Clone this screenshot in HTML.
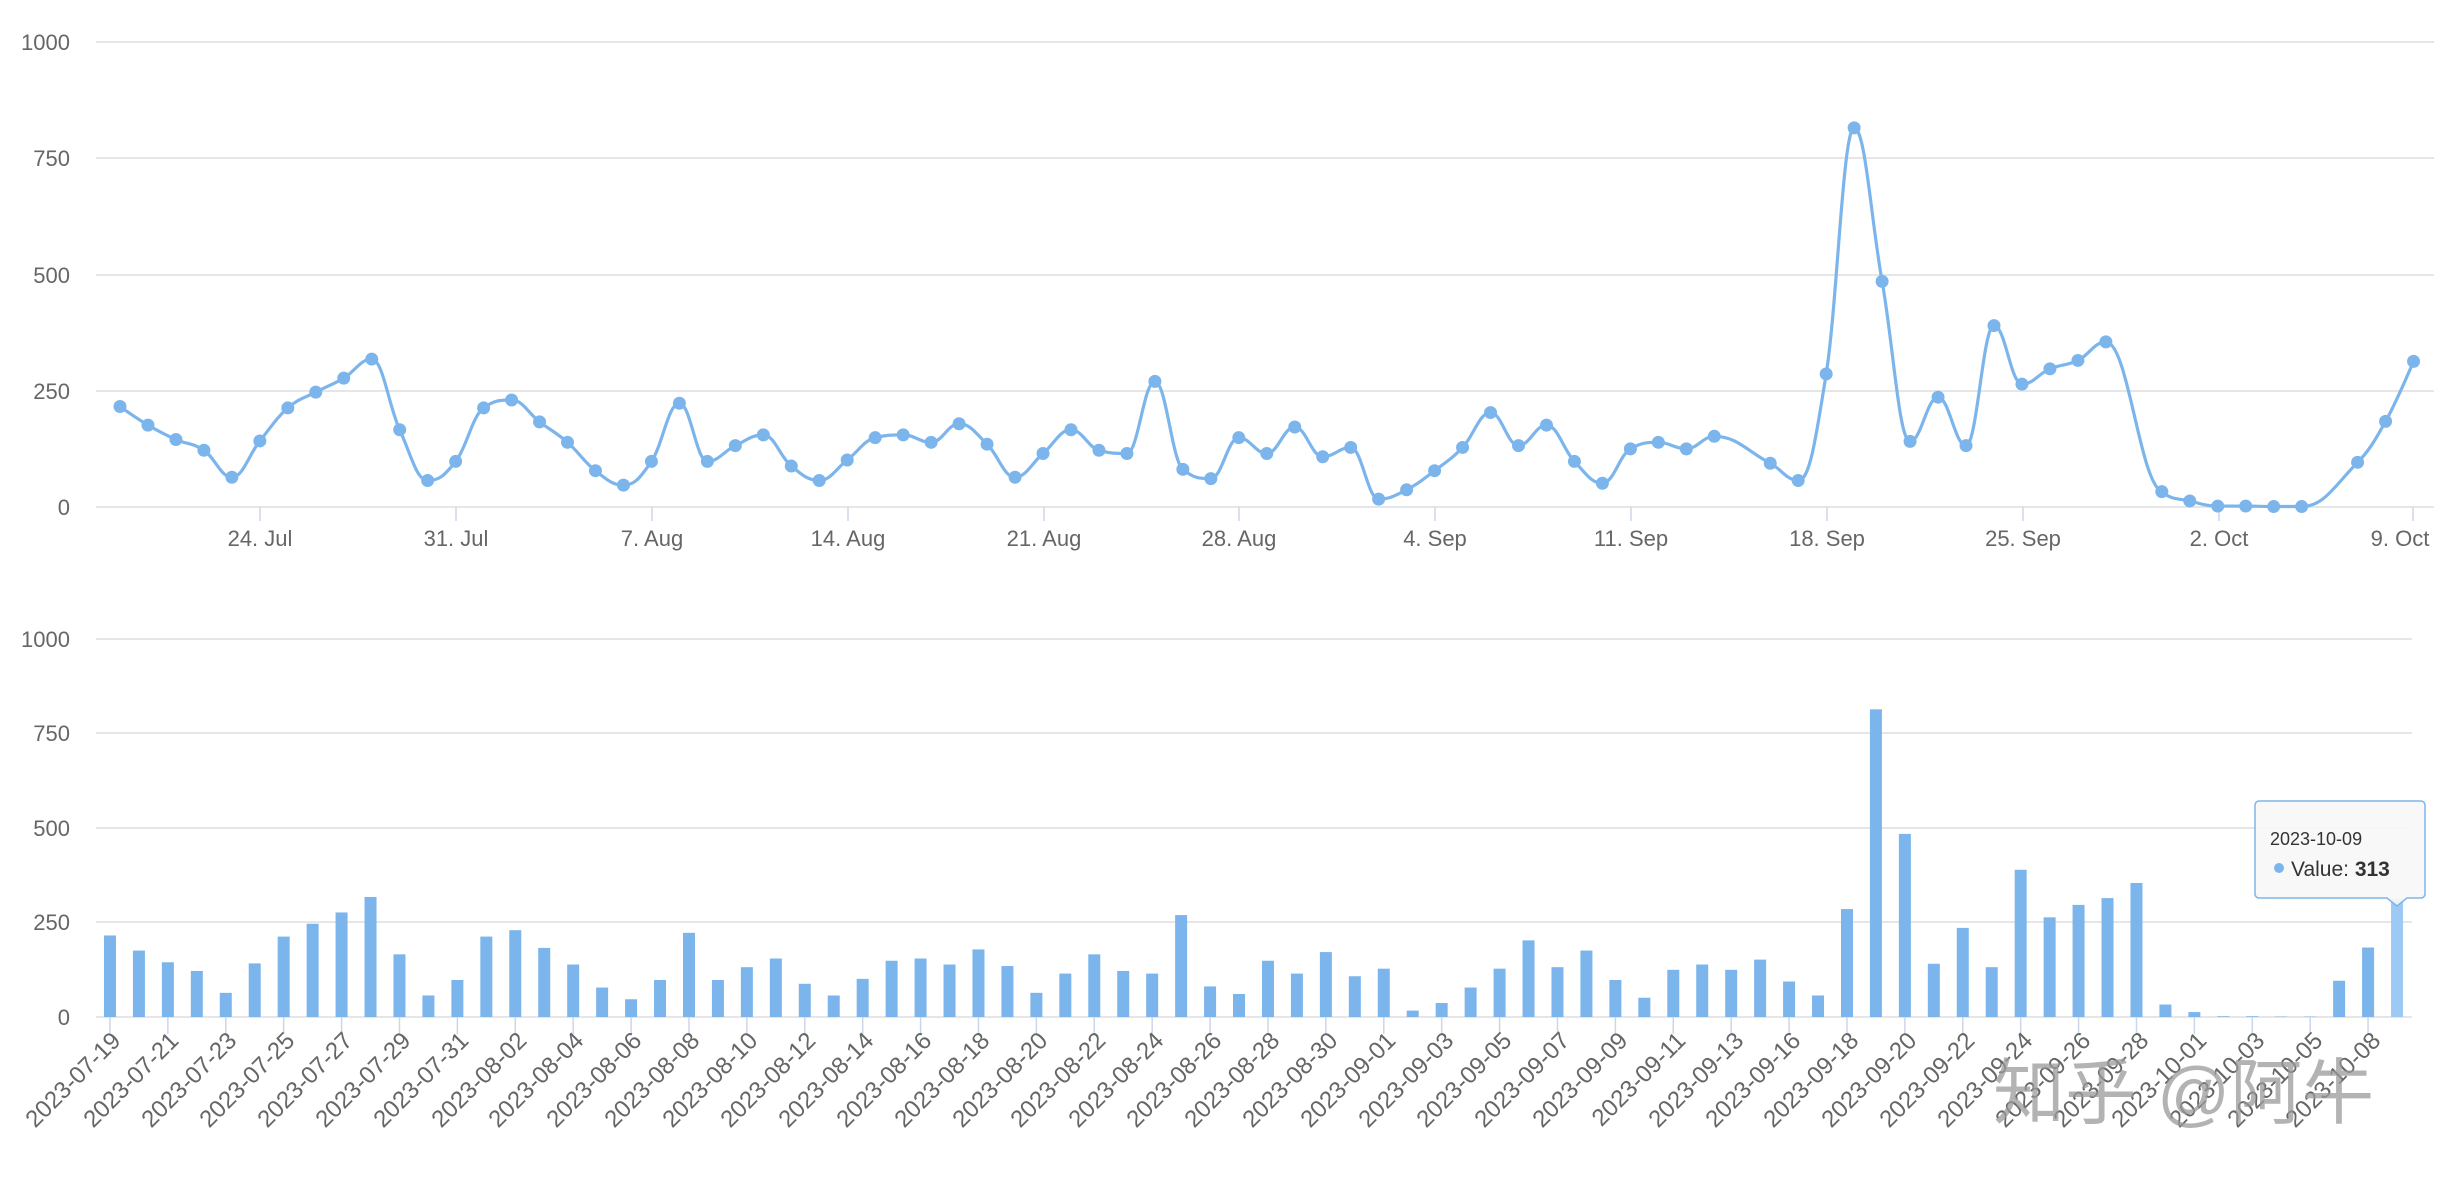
<!DOCTYPE html>
<html><head><meta charset="utf-8"><style>
html,body{margin:0;padding:0;background:#fff;}
svg{display:block;font-family:"Liberation Sans","Noto Sans CJK SC",sans-serif;}
.yl{font-size:22px;fill:#666;text-anchor:end;}
.xl{font-size:22px;fill:#666;text-anchor:middle;}
.bl{font-size:24px;fill:#666;text-anchor:end;}
</style></head><body>
<svg id="s" width="2439" height="1186" viewBox="0 0 2439 1186" xmlns="http://www.w3.org/2000/svg">
<g stroke="#e6e6e6" stroke-width="2">
<line x1="96" x2="2434" y1="42" y2="42"/><line x1="96" x2="2434" y1="158" y2="158"/><line x1="96" x2="2434" y1="275" y2="275"/><line x1="96" x2="2434" y1="391" y2="391"/><line x1="96" x2="2434" y1="507" y2="507"/>
<line x1="96" x2="2412" y1="639" y2="639"/><line x1="96" x2="2412" y1="733" y2="733"/><line x1="96" x2="2412" y1="828" y2="828"/><line x1="96" x2="2412" y1="922" y2="922"/><line x1="96" x2="2412" y1="1017" y2="1017"/>
</g>
<g class="yl">
<text x="70" y="50">1000</text><text x="70" y="166">750</text><text x="70" y="283">500</text><text x="70" y="399">250</text><text x="70" y="515">0</text>
<text x="70" y="647">1000</text><text x="70" y="741">750</text><text x="70" y="836">500</text><text x="70" y="930">250</text><text x="70" y="1025">0</text>
</g>
<g id="tt" stroke="#ccd6eb" stroke-width="1.5"></g>
<g class="xl">
<text x="260" y="546">24. Jul</text><text x="456" y="546">31. Jul</text><text x="652" y="546">7. Aug</text><text x="848" y="546">14. Aug</text><text x="1044" y="546">21. Aug</text><text x="1239" y="546">28. Aug</text><text x="1435" y="546">4. Sep</text><text x="1631" y="546">11. Sep</text><text x="1827" y="546">18. Sep</text><text x="2023" y="546">25. Sep</text><text x="2219" y="546">2. Oct</text><text x="2400" y="546">9. Oct</text>
</g>
<g id="bars"></g>
<path id="line" fill="none" stroke="#7cb5ec" stroke-width="3.2"/>
<g id="marks" fill="#7cb5ec"></g>
<g id="bt" stroke="#ccd6eb" stroke-width="1.5"></g>
<g class="bl" id="blabels">
<text transform="translate(122,1042) rotate(-45)">2023-07-19</text>
<text transform="translate(180,1042) rotate(-45)">2023-07-21</text>
<text transform="translate(238,1042) rotate(-45)">2023-07-23</text>
<text transform="translate(296,1042) rotate(-45)">2023-07-25</text>
<text transform="translate(354,1042) rotate(-45)">2023-07-27</text>
<text transform="translate(412,1042) rotate(-45)">2023-07-29</text>
<text transform="translate(470,1042) rotate(-45)">2023-07-31</text>
<text transform="translate(528,1042) rotate(-45)">2023-08-02</text>
<text transform="translate(585,1042) rotate(-45)">2023-08-04</text>
<text transform="translate(643,1042) rotate(-45)">2023-08-06</text>
<text transform="translate(701,1042) rotate(-45)">2023-08-08</text>
<text transform="translate(759,1042) rotate(-45)">2023-08-10</text>
<text transform="translate(817,1042) rotate(-45)">2023-08-12</text>
<text transform="translate(875,1042) rotate(-45)">2023-08-14</text>
<text transform="translate(933,1042) rotate(-45)">2023-08-16</text>
<text transform="translate(991,1042) rotate(-45)">2023-08-18</text>
<text transform="translate(1049,1042) rotate(-45)">2023-08-20</text>
<text transform="translate(1107,1042) rotate(-45)">2023-08-22</text>
<text transform="translate(1165,1042) rotate(-45)">2023-08-24</text>
<text transform="translate(1223,1042) rotate(-45)">2023-08-26</text>
<text transform="translate(1281,1042) rotate(-45)">2023-08-28</text>
<text transform="translate(1339,1042) rotate(-45)">2023-08-30</text>
<text transform="translate(1397,1042) rotate(-45)">2023-09-01</text>
<text transform="translate(1455,1042) rotate(-45)">2023-09-03</text>
<text transform="translate(1513,1042) rotate(-45)">2023-09-05</text>
<text transform="translate(1571,1042) rotate(-45)">2023-09-07</text>
<text transform="translate(1629,1042) rotate(-45)">2023-09-09</text>
<text transform="translate(1687,1042) rotate(-45)">2023-09-11</text>
<text transform="translate(1745,1042) rotate(-45)">2023-09-13</text>
<text transform="translate(1802,1042) rotate(-45)">2023-09-16</text>
<text transform="translate(1860,1042) rotate(-45)">2023-09-18</text>
<text transform="translate(1918,1042) rotate(-45)">2023-09-20</text>
<text transform="translate(1976,1042) rotate(-45)">2023-09-22</text>
<text transform="translate(2034,1042) rotate(-45)">2023-09-24</text>
<text transform="translate(2092,1042) rotate(-45)">2023-09-26</text>
<text transform="translate(2150,1042) rotate(-45)">2023-09-28</text>
<text transform="translate(2208,1042) rotate(-45)">2023-10-01</text>
<text transform="translate(2266,1042) rotate(-45)">2023-10-03</text>
<text transform="translate(2324,1042) rotate(-45)">2023-10-05</text>
<text transform="translate(2382,1042) rotate(-45)">2023-10-08</text>
</g>
<text x="1993" y="1118" font-size="72" fill="#999" fill-opacity="0.75">知乎 @阿牛</text>
<path d="M2259,801 H2421 a4,4 0 0 1 4,4 V894 a4,4 0 0 1 -4,4 H2407 L2397,906 L2387,898 H2259 a4,4 0 0 1 -4,-4 V805 a4,4 0 0 1 4,-4 Z" fill="#f7f7f7" fill-opacity="0.9" stroke="#7cb5ec" stroke-width="1.5"/>
<text x="2270" y="845" font-size="18" fill="#333">2023-10-09</text>
<circle cx="2279" cy="868" r="5" fill="#7cb5ec"/>
<text x="2291" y="876" font-size="21" fill="#333">Value: <tspan font-weight="bold">313</tspan></text>
</svg>
<script>
var vals=[216,176,145,122,64,142,213,247,277,318,166,57,98,213,230,183,139,78,47,98,223,98,132,155,88,57,101,149,155,139,179,135,64,115,166,122,115,270,81,61,149,115,172,108,128,17,37,78,128,203,132,176,98,51,125,139,125,152,94,57,286,815,485,141,236,132,390,264,297,315,355,33,13,2,2,1,1,96,184,313];
var off=[];for(var d=0;d<=82;d++){if(d==58||d==72||d==79)continue;off.push(d);}
var NS="http://www.w3.org/2000/svg";
function el(t,a,p){var e=document.createElementNS(NS,t);for(var k in a)e.setAttribute(k,a[k]);document.getElementById(p).appendChild(e);}
var pts=[];for(var i=0;i<vals.length;i++){pts.push([120+off[i]*27.97,507-vals[i]*0.4652]);}
var d="M"+pts[0][0]+","+pts[0][1];
function conts(i){var p=pts[i],a=pts[i-1],b=pts[i+1];var lx=(1.5*p[0]+a[0])/2.5,ly=(1.5*p[1]+a[1])/2.5,rx=(1.5*p[0]+b[0])/2.5,ry=(1.5*p[1]+b[1])/2.5;var c=((ry-ly)*(rx-p[0]))/(rx-lx)+p[1]-ry;ly+=c;ry+=c;
if(ly>Math.max(a[1],p[1])){ly=Math.max(a[1],p[1]);ry=2*p[1]-ly;}else if(ly<Math.min(a[1],p[1])){ly=Math.min(a[1],p[1]);ry=2*p[1]-ly;}
if(ry>Math.max(p[1],b[1])){ry=Math.max(p[1],b[1]);ly=2*p[1]-ry;}else if(ry<Math.min(p[1],b[1])){ry=Math.min(p[1],b[1]);ly=2*p[1]-ry;}
return [lx,ly,rx,ry];}
var C=[null];for(var i=1;i<pts.length-1;i++)C.push(conts(i));
for(var i=1;i<pts.length;i++){var p0=pts[i-1],p=pts[i];var c1=i-1>0?[C[i-1][2],C[i-1][3]]:p0;var c2=i<pts.length-1?[C[i][0],C[i][1]]:p;d+=" C"+c1[0]+","+c1[1]+" "+c2[0]+","+c2[1]+" "+p[0]+","+p[1];}
document.getElementById("line").setAttribute("d",d);
for(var i=0;i<pts.length;i++)el("circle",{cx:pts[i][0],cy:pts[i][1],r:6.5},"marks");
[260,456,652,848,1044,1239,1435,1631,1827,2023,2219,2413].forEach(function(x){el("line",{x1:x,x2:x,y1:507,y2:521},"tt");});
var cw=28.95;for(var i=0;i<vals.length;i++){var cx=95.5+cw*(i+0.5);var h=vals[i]*0.3775;el("rect",{x:cx-6,y:1017-h,width:12,height:h,fill:i==vals.length-1?"#9dcaf4":"#7cb5ec"},"bars");if(i%2==0)el("line",{x1:cx,x2:cx,y1:1017,y2:1034},"bt");}
</script>
</body></html>
